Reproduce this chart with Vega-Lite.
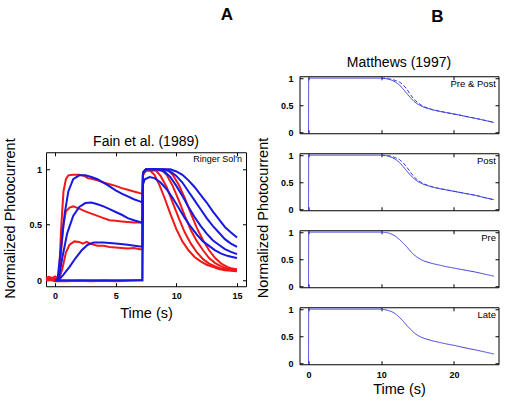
{
"$schema":"https://vega.github.io/schema/vega-lite/v6.json",
"background":"white",
"padding":{"left":2,"top":6,"right":2,"bottom":2},
"config":{
 "font":"Liberation Sans",
 "view":{"stroke":"black","strokeWidth":1},
 "axis":{"minExtent":0,"tickSize":-3.5,"tickColor":"black","tickWidth":1,"domain":false,"grid":false,"labelFont":"Liberation Sans","labelFontWeight":"bold","labelFontSize":9,"labelColor":"black","titleFont":"Liberation Sans","titleFontWeight":"normal","titleFontSize":14.5,"titleColor":"black"},
 "axisY":{"minExtent":0},
 "title":{"font":"Liberation Sans","fontSize":14,"fontWeight":"normal","color":"black","baseline":"alphabetic"}
},
"datasets":{
 "fain":[
{"s":"r1","m":"data","t":-0.74,"v":0.02},{"s":"r1","m":"data","t":-0.5,"v":0.03},{"s":"r1","m":"data","t":-0.25,"v":0.02},{"s":"r1","m":"data","t":0,"v":0.035},{"s":"r1","m":"data","t":0.2,"v":0.02},{"s":"r1","m":"data","t":0.35,"v":0.06},{"s":"r1","m":"data","t":0.5,"v":0.45},{"s":"r1","m":"data","t":0.7,"v":0.8},{"s":"r1","m":"data","t":0.9,"v":0.91},{"s":"r1","m":"data","t":1.1,"v":0.945},{"s":"r1","m":"data","t":1.5,"v":0.95},{"s":"r1","m":"data","t":2,"v":0.95},{"s":"r1","m":"data","t":2.4,"v":0.94},{"s":"r1","m":"data","t":2.7,"v":0.92},{"s":"r1","m":"data","t":3,"v":0.915},{"s":"r1","m":"data","t":3.5,"v":0.9},{"s":"r1","m":"data","t":4,"v":0.88},{"s":"r1","m":"data","t":4.5,"v":0.865},{"s":"r1","m":"data","t":5,"v":0.85},{"s":"r1","m":"data","t":5.5,"v":0.83},{"s":"r1","m":"data","t":6,"v":0.815},{"s":"r1","m":"data","t":6.5,"v":0.8},{"s":"r1","m":"data","t":7,"v":0.785},{"s":"r1","m":"data","t":7.2,"v":0.78},{"s":"r1","m":"data","t":7.25,"v":0.96},{"s":"r1","m":"data","t":7.4,"v":0.99},{"s":"r1","m":"data","t":7.8,"v":0.99},{"s":"r1","m":"data","t":8.2,"v":0.95},{"s":"r1","m":"data","t":8.6,"v":0.86},{"s":"r1","m":"data","t":9,"v":0.75},{"s":"r1","m":"data","t":9.5,"v":0.6},{"s":"r1","m":"data","t":10,"v":0.46},{"s":"r1","m":"data","t":10.5,"v":0.35},{"s":"r1","m":"data","t":11,"v":0.27},{"s":"r1","m":"data","t":11.5,"v":0.21},{"s":"r1","m":"data","t":12,"v":0.17},{"s":"r1","m":"data","t":12.5,"v":0.14},{"s":"r1","m":"data","t":13,"v":0.12},{"s":"r1","m":"data","t":13.5,"v":0.1},{"s":"r1","m":"data","t":14,"v":0.09},{"s":"r1","m":"data","t":14.5,"v":0.085},{"s":"r1","m":"data","t":15,"v":0.08},
{"s":"r2","m":"data","t":-0.74,"v":0.01},{"s":"r2","m":"data","t":-0.4,"v":0.02},{"s":"r2","m":"data","t":0,"v":0.015},{"s":"r2","m":"data","t":0.3,"v":0.02},{"s":"r2","m":"data","t":0.5,"v":0.25},{"s":"r2","m":"data","t":0.7,"v":0.5},{"s":"r2","m":"data","t":0.9,"v":0.62},{"s":"r2","m":"data","t":1.2,"v":0.655},{"s":"r2","m":"data","t":1.5,"v":0.665},{"s":"r2","m":"data","t":2,"v":0.645},{"s":"r2","m":"data","t":2.5,"v":0.62},{"s":"r2","m":"data","t":3,"v":0.6},{"s":"r2","m":"data","t":3.5,"v":0.58},{"s":"r2","m":"data","t":4,"v":0.56},{"s":"r2","m":"data","t":4.5,"v":0.54},{"s":"r2","m":"data","t":5,"v":0.535},{"s":"r2","m":"data","t":5.5,"v":0.53},{"s":"r2","m":"data","t":6,"v":0.525},{"s":"r2","m":"data","t":6.5,"v":0.52},{"s":"r2","m":"data","t":7,"v":0.52},{"s":"r2","m":"data","t":7.2,"v":0.515},{"s":"r2","m":"data","t":7.25,"v":0.95},{"s":"r2","m":"data","t":7.5,"v":0.99},{"s":"r2","m":"data","t":8.3,"v":0.99},{"s":"r2","m":"data","t":8.7,"v":0.94},{"s":"r2","m":"data","t":9.2,"v":0.84},{"s":"r2","m":"data","t":9.7,"v":0.7},{"s":"r2","m":"data","t":10.2,"v":0.56},{"s":"r2","m":"data","t":10.7,"v":0.43},{"s":"r2","m":"data","t":11.2,"v":0.33},{"s":"r2","m":"data","t":11.7,"v":0.25},{"s":"r2","m":"data","t":12.2,"v":0.19},{"s":"r2","m":"data","t":12.7,"v":0.15},{"s":"r2","m":"data","t":13.2,"v":0.125},{"s":"r2","m":"data","t":13.7,"v":0.105},{"s":"r2","m":"data","t":14.2,"v":0.095},{"s":"r2","m":"data","t":15,"v":0.085},
{"s":"r3","m":"data","t":-0.74,"v":0},{"s":"r3","m":"data","t":-0.3,"v":0.005},{"s":"r3","m":"data","t":0.3,"v":0},{"s":"r3","m":"data","t":0.6,"v":0.1},{"s":"r3","m":"data","t":0.9,"v":0.25},{"s":"r3","m":"data","t":1.2,"v":0.32},{"s":"r3","m":"data","t":1.6,"v":0.35},{"s":"r3","m":"data","t":2,"v":0.345},{"s":"r3","m":"data","t":2.3,"v":0.33},{"s":"r3","m":"data","t":2.6,"v":0.345},{"s":"r3","m":"data","t":3,"v":0.325},{"s":"r3","m":"data","t":3.5,"v":0.31},{"s":"r3","m":"data","t":4,"v":0.31},{"s":"r3","m":"data","t":4.5,"v":0.3},{"s":"r3","m":"data","t":5,"v":0.295},{"s":"r3","m":"data","t":5.5,"v":0.29},{"s":"r3","m":"data","t":6,"v":0.285},{"s":"r3","m":"data","t":6.5,"v":0.29},{"s":"r3","m":"data","t":7,"v":0.28},{"s":"r3","m":"data","t":7.2,"v":0.28},{"s":"r3","m":"data","t":7.25,"v":0.95},{"s":"r3","m":"data","t":7.5,"v":0.99},{"s":"r3","m":"data","t":8.8,"v":0.99},{"s":"r3","m":"data","t":9.2,"v":0.95},{"s":"r3","m":"data","t":9.7,"v":0.85},{"s":"r3","m":"data","t":10.2,"v":0.72},{"s":"r3","m":"data","t":10.7,"v":0.58},{"s":"r3","m":"data","t":11.2,"v":0.45},{"s":"r3","m":"data","t":11.7,"v":0.35},{"s":"r3","m":"data","t":12.2,"v":0.27},{"s":"r3","m":"data","t":12.7,"v":0.2},{"s":"r3","m":"data","t":13.2,"v":0.155},{"s":"r3","m":"data","t":13.7,"v":0.125},{"s":"r3","m":"data","t":14.2,"v":0.105},{"s":"r3","m":"data","t":15,"v":0.09},
{"s":"r4","m":"data","t":-0.74,"v":0.01},{"s":"r4","m":"data","t":-0.3,"v":0},{"s":"r4","m":"data","t":0,"v":-0.01},{"s":"r4","m":"data","t":1,"v":-0.01},{"s":"r4","m":"data","t":2,"v":-0.005},{"s":"r4","m":"data","t":3,"v":-0.01},{"s":"r4","m":"data","t":4,"v":-0.005},{"s":"r4","m":"data","t":5,"v":-0.01},{"s":"r4","m":"data","t":6,"v":-0.005},{"s":"r4","m":"data","t":7,"v":0},{"s":"r4","m":"data","t":7.2,"v":0},{"s":"r4","m":"data","t":7.25,"v":0.95},{"s":"r4","m":"data","t":7.5,"v":0.99},{"s":"r4","m":"data","t":9.3,"v":0.99},{"s":"r4","m":"data","t":9.7,"v":0.95},{"s":"r4","m":"data","t":10.2,"v":0.86},{"s":"r4","m":"data","t":10.7,"v":0.74},{"s":"r4","m":"data","t":11.2,"v":0.6},{"s":"r4","m":"data","t":11.7,"v":0.47},{"s":"r4","m":"data","t":12.2,"v":0.36},{"s":"r4","m":"data","t":12.7,"v":0.27},{"s":"r4","m":"data","t":13.2,"v":0.2},{"s":"r4","m":"data","t":13.7,"v":0.15},{"s":"r4","m":"data","t":14.2,"v":0.12},{"s":"r4","m":"data","t":14.6,"v":0.105},{"s":"r4","m":"data","t":15,"v":0.1},
{"s":"b1","m":"model","t":0,"v":0},{"s":"b1","m":"model","t":0.2,"v":0},{"s":"b1","m":"model","t":0.5,"v":0.3},{"s":"b1","m":"model","t":0.8,"v":0.6},{"s":"b1","m":"model","t":1.1,"v":0.8},{"s":"b1","m":"model","t":1.5,"v":0.91},{"s":"b1","m":"model","t":2,"v":0.945},{"s":"b1","m":"model","t":2.5,"v":0.945},{"s":"b1","m":"model","t":3,"v":0.93},{"s":"b1","m":"model","t":3.5,"v":0.91},{"s":"b1","m":"model","t":4,"v":0.88},{"s":"b1","m":"model","t":4.5,"v":0.845},{"s":"b1","m":"model","t":5,"v":0.81},{"s":"b1","m":"model","t":5.5,"v":0.78},{"s":"b1","m":"model","t":6,"v":0.755},{"s":"b1","m":"model","t":6.5,"v":0.73},{"s":"b1","m":"model","t":7,"v":0.71},{"s":"b1","m":"model","t":7.2,"v":0.7},{"s":"b1","m":"model","t":7.25,"v":0.86},{"s":"b1","m":"model","t":7.4,"v":0.91},{"s":"b1","m":"model","t":7.8,"v":0.93},{"s":"b1","m":"model","t":8.2,"v":0.92},{"s":"b1","m":"model","t":8.7,"v":0.88},{"s":"b1","m":"model","t":9.2,"v":0.82},{"s":"b1","m":"model","t":9.7,"v":0.74},{"s":"b1","m":"model","t":10.2,"v":0.65},{"s":"b1","m":"model","t":10.7,"v":0.56},{"s":"b1","m":"model","t":11.2,"v":0.48},{"s":"b1","m":"model","t":11.7,"v":0.41},{"s":"b1","m":"model","t":12.2,"v":0.35},{"s":"b1","m":"model","t":12.7,"v":0.31},{"s":"b1","m":"model","t":13.2,"v":0.27},{"s":"b1","m":"model","t":13.7,"v":0.24},{"s":"b1","m":"model","t":14.2,"v":0.22},{"s":"b1","m":"model","t":14.6,"v":0.21},{"s":"b1","m":"model","t":15,"v":0.2},
{"s":"b2","m":"model","t":0,"v":0},{"s":"b2","m":"model","t":0.3,"v":0},{"s":"b2","m":"model","t":0.6,"v":0.2},{"s":"b2","m":"model","t":1,"v":0.42},{"s":"b2","m":"model","t":1.5,"v":0.58},{"s":"b2","m":"model","t":2,"v":0.66},{"s":"b2","m":"model","t":2.5,"v":0.695},{"s":"b2","m":"model","t":3,"v":0.7},{"s":"b2","m":"model","t":3.5,"v":0.685},{"s":"b2","m":"model","t":4,"v":0.665},{"s":"b2","m":"model","t":4.5,"v":0.64},{"s":"b2","m":"model","t":5,"v":0.615},{"s":"b2","m":"model","t":5.5,"v":0.59},{"s":"b2","m":"model","t":6,"v":0.56},{"s":"b2","m":"model","t":6.5,"v":0.54},{"s":"b2","m":"model","t":7,"v":0.525},{"s":"b2","m":"model","t":7.2,"v":0.52},{"s":"b2","m":"model","t":7.25,"v":0.97},{"s":"b2","m":"model","t":7.5,"v":1},{"s":"b2","m":"model","t":8.5,"v":1},{"s":"b2","m":"model","t":9,"v":0.98},{"s":"b2","m":"model","t":9.5,"v":0.93},{"s":"b2","m":"model","t":10,"v":0.85},{"s":"b2","m":"model","t":10.5,"v":0.76},{"s":"b2","m":"model","t":11,"v":0.66},{"s":"b2","m":"model","t":11.5,"v":0.57},{"s":"b2","m":"model","t":12,"v":0.49},{"s":"b2","m":"model","t":12.5,"v":0.42},{"s":"b2","m":"model","t":13,"v":0.36},{"s":"b2","m":"model","t":13.5,"v":0.32},{"s":"b2","m":"model","t":14,"v":0.28},{"s":"b2","m":"model","t":14.5,"v":0.255},{"s":"b2","m":"model","t":15,"v":0.235},
{"s":"b3","m":"model","t":0,"v":0},{"s":"b3","m":"model","t":0.3,"v":0},{"s":"b3","m":"model","t":0.7,"v":0.05},{"s":"b3","m":"model","t":1.2,"v":0.12},{"s":"b3","m":"model","t":1.7,"v":0.2},{"s":"b3","m":"model","t":2.2,"v":0.27},{"s":"b3","m":"model","t":2.7,"v":0.32},{"s":"b3","m":"model","t":3.2,"v":0.34},{"s":"b3","m":"model","t":4,"v":0.34},{"s":"b3","m":"model","t":5,"v":0.33},{"s":"b3","m":"model","t":6,"v":0.32},{"s":"b3","m":"model","t":7,"v":0.305},{"s":"b3","m":"model","t":7.2,"v":0.305},{"s":"b3","m":"model","t":7.25,"v":0.97},{"s":"b3","m":"model","t":7.5,"v":1},{"s":"b3","m":"model","t":9,"v":1},{"s":"b3","m":"model","t":9.5,"v":0.98},{"s":"b3","m":"model","t":10,"v":0.94},{"s":"b3","m":"model","t":10.5,"v":0.88},{"s":"b3","m":"model","t":11,"v":0.8},{"s":"b3","m":"model","t":11.5,"v":0.72},{"s":"b3","m":"model","t":12,"v":0.64},{"s":"b3","m":"model","t":12.5,"v":0.56},{"s":"b3","m":"model","t":13,"v":0.49},{"s":"b3","m":"model","t":13.5,"v":0.43},{"s":"b3","m":"model","t":14,"v":0.37},{"s":"b3","m":"model","t":14.5,"v":0.33},{"s":"b3","m":"model","t":15,"v":0.3},
{"s":"b4","m":"model","t":0,"v":0},{"s":"b4","m":"model","t":7.2,"v":0},{"s":"b4","m":"model","t":7.25,"v":0.97},{"s":"b4","m":"model","t":7.5,"v":1},{"s":"b4","m":"model","t":9.5,"v":1},{"s":"b4","m":"model","t":10,"v":0.98},{"s":"b4","m":"model","t":10.5,"v":0.95},{"s":"b4","m":"model","t":11,"v":0.9},{"s":"b4","m":"model","t":11.5,"v":0.84},{"s":"b4","m":"model","t":12,"v":0.77},{"s":"b4","m":"model","t":12.5,"v":0.7},{"s":"b4","m":"model","t":13,"v":0.62},{"s":"b4","m":"model","t":13.5,"v":0.55},{"s":"b4","m":"model","t":14,"v":0.48},{"s":"b4","m":"model","t":14.5,"v":0.43},{"s":"b4","m":"model","t":15,"v":0.385}
 ],
 "pp":[
{"d":"solid","t":0,"v":-0.02},{"d":"solid","t":0.02,"v":1},{"d":"solid","t":10,"v":1},{"d":"solid","t":10.5,"v":0.995},{"d":"solid","t":11,"v":0.98},{"d":"solid","t":11.5,"v":0.96},{"d":"solid","t":12,"v":0.925},{"d":"solid","t":12.5,"v":0.875},{"d":"solid","t":13,"v":0.8},{"d":"solid","t":13.5,"v":0.72},{"d":"solid","t":14,"v":0.64},{"d":"solid","t":14.5,"v":0.57},{"d":"solid","t":15,"v":0.52},{"d":"solid","t":15.5,"v":0.485},{"d":"solid","t":16,"v":0.455},{"d":"solid","t":17,"v":0.415},{"d":"solid","t":18,"v":0.385},{"d":"solid","t":19,"v":0.36},{"d":"solid","t":20,"v":0.335},{"d":"solid","t":21,"v":0.31},{"d":"solid","t":22,"v":0.28},{"d":"solid","t":23,"v":0.255},{"d":"solid","t":24,"v":0.225},{"d":"solid","t":25,"v":0.195},{"d":"solid","t":25.5,"v":0.18},
{"d":"dashed","t":10,"v":1},{"d":"dashed","t":11,"v":0.99},{"d":"dashed","t":11.5,"v":0.975},{"d":"dashed","t":12,"v":0.955},{"d":"dashed","t":12.5,"v":0.93},{"d":"dashed","t":13,"v":0.88},{"d":"dashed","t":13.5,"v":0.8},{"d":"dashed","t":14,"v":0.7},{"d":"dashed","t":14.5,"v":0.61},{"d":"dashed","t":15,"v":0.55},{"d":"dashed","t":15.5,"v":0.5},{"d":"dashed","t":16,"v":0.465},{"d":"dashed","t":17,"v":0.42},{"d":"dashed","t":18,"v":0.39},{"d":"dashed","t":19,"v":0.362},{"d":"dashed","t":20,"v":0.337},{"d":"dashed","t":21,"v":0.31},{"d":"dashed","t":22,"v":0.282},{"d":"dashed","t":23,"v":0.256},{"d":"dashed","t":24,"v":0.226},{"d":"dashed","t":25,"v":0.196},{"d":"dashed","t":25.5,"v":0.18}
 ],
 "post":[
{"d":"solid","t":0,"v":-0.02},{"d":"solid","t":0.02,"v":1},{"d":"solid","t":10,"v":1},{"d":"solid","t":10.5,"v":0.995},{"d":"solid","t":11,"v":0.98},{"d":"solid","t":11.5,"v":0.955},{"d":"solid","t":12,"v":0.92},{"d":"solid","t":12.5,"v":0.865},{"d":"solid","t":13,"v":0.79},{"d":"solid","t":13.5,"v":0.71},{"d":"solid","t":14,"v":0.63},{"d":"solid","t":14.5,"v":0.565},{"d":"solid","t":15,"v":0.515},{"d":"solid","t":15.5,"v":0.48},{"d":"solid","t":16,"v":0.45},{"d":"solid","t":17,"v":0.41},{"d":"solid","t":18,"v":0.38},{"d":"solid","t":19,"v":0.355},{"d":"solid","t":20,"v":0.33},{"d":"solid","t":21,"v":0.305},{"d":"solid","t":22,"v":0.28},{"d":"solid","t":23,"v":0.255},{"d":"solid","t":24,"v":0.22},{"d":"solid","t":25,"v":0.19},{"d":"solid","t":25.5,"v":0.175},
{"d":"dashed","t":10,"v":1},{"d":"dashed","t":11,"v":0.99},{"d":"dashed","t":11.5,"v":0.975},{"d":"dashed","t":12,"v":0.95},{"d":"dashed","t":12.5,"v":0.92},{"d":"dashed","t":13,"v":0.86},{"d":"dashed","t":13.5,"v":0.78},{"d":"dashed","t":14,"v":0.69},{"d":"dashed","t":14.5,"v":0.6},{"d":"dashed","t":15,"v":0.54},{"d":"dashed","t":15.5,"v":0.495},{"d":"dashed","t":16,"v":0.46},{"d":"dashed","t":17,"v":0.415},{"d":"dashed","t":18,"v":0.383},{"d":"dashed","t":19,"v":0.357},{"d":"dashed","t":20,"v":0.332},{"d":"dashed","t":21,"v":0.306},{"d":"dashed","t":22,"v":0.281},{"d":"dashed","t":23,"v":0.256},{"d":"dashed","t":24,"v":0.221},{"d":"dashed","t":25,"v":0.191},{"d":"dashed","t":25.5,"v":0.175}
 ],
 "pre":[
{"d":"solid","t":0,"v":-0.02},{"d":"solid","t":0.02,"v":1},{"d":"solid","t":10,"v":1},{"d":"solid","t":10.5,"v":0.995},{"d":"solid","t":11,"v":0.985},{"d":"solid","t":11.5,"v":0.96},{"d":"solid","t":12,"v":0.92},{"d":"solid","t":12.5,"v":0.865},{"d":"solid","t":13,"v":0.8},{"d":"solid","t":13.5,"v":0.73},{"d":"solid","t":14,"v":0.65},{"d":"solid","t":14.5,"v":0.58},{"d":"solid","t":15,"v":0.53},{"d":"solid","t":15.5,"v":0.49},{"d":"solid","t":16,"v":0.46},{"d":"solid","t":17,"v":0.42},{"d":"solid","t":18,"v":0.39},{"d":"solid","t":19,"v":0.36},{"d":"solid","t":20,"v":0.335},{"d":"solid","t":21,"v":0.31},{"d":"solid","t":22,"v":0.285},{"d":"solid","t":23,"v":0.26},{"d":"solid","t":24,"v":0.23},{"d":"solid","t":25,"v":0.2},{"d":"solid","t":25.5,"v":0.185}
 ],
 "late":[
{"d":"solid","t":0,"v":-0.02},{"d":"solid","t":0.02,"v":1},{"d":"solid","t":10,"v":1},{"d":"solid","t":10.5,"v":0.99},{"d":"solid","t":11,"v":0.975},{"d":"solid","t":11.5,"v":0.95},{"d":"solid","t":12,"v":0.91},{"d":"solid","t":12.5,"v":0.85},{"d":"solid","t":13,"v":0.78},{"d":"solid","t":13.5,"v":0.7},{"d":"solid","t":14,"v":0.63},{"d":"solid","t":14.5,"v":0.565},{"d":"solid","t":15,"v":0.515},{"d":"solid","t":15.5,"v":0.48},{"d":"solid","t":16,"v":0.455},{"d":"solid","t":17,"v":0.415},{"d":"solid","t":18,"v":0.385},{"d":"solid","t":19,"v":0.355},{"d":"solid","t":20,"v":0.33},{"d":"solid","t":21,"v":0.3},{"d":"solid","t":22,"v":0.27},{"d":"solid","t":23,"v":0.245},{"d":"solid","t":24,"v":0.215},{"d":"solid","t":25,"v":0.185},{"d":"solid","t":25.5,"v":0.17}
 ],
 "labels":[{"panel":"fain","t":15.41,"v":1.126,"label":"Ringer Sol'n"},{"panel":"pp","t":25.78,"v":0.98,"label":"Pre & Post"},{"panel":"post","t":25.78,"v":0.98,"label":"Post"},{"panel":"pre","t":25.78,"v":0.98,"label":"Pre"},{"panel":"late","t":25.78,"v":0.98,"label":"Late"}]
},
"hconcat":[
 {
  "title":{"text":"A","fontSize":17,"fontWeight":"bold","anchor":"end","frame":"bounds","dx":-14,"offset":110},
  "vconcat":[
   {
    "title":{"text":"Normalized Photocurrent","orient":"left","fontSize":14.5,"anchor":"middle","frame":"bounds","offset":10,"dx":9},
    "vconcat":[
     {
      "title":{"text":"Fain et al. (1989)","offset":3,"frame":"group"},
      "width":200,"height":134,
      "data":{"name":"fain"},
      "layer":[
       {"mark":{"type":"line","strokeWidth":2},
        "encoding":{
         "x":{"field":"t","type":"quantitative","scale":{"domain":[-0.74,15.74],"nice":false,"zero":false},"axis":{"values":[0,5,10,15],"format":"d","labelPadding":9,"title":"Time (s)","titlePadding":6}},
         "y":{"field":"v","type":"quantitative","scale":{"domain":[-0.054,1.153],"nice":false,"zero":false},"axis":{"values":[0,0.5,1],"format":"~g","labelPadding":8,"title":null}},
         "color":{"field":"m","type":"nominal","scale":{"domain":["data","model"],"range":["#f01818","#1818e0"]},"legend":null},
         "detail":{"field":"s","type":"nominal"}
        }},
       {"mark":{"type":"point","opacity":0},
        "encoding":{
         "x":{"field":"t","type":"quantitative","scale":{"domain":[-0.74,15.74],"nice":false,"zero":false},"axis":{"orient":"top","values":[0,5,10,15],"labels":false,"title":null}},
         "y":{"field":"v","type":"quantitative","scale":{"domain":[-0.054,1.153],"nice":false,"zero":false},"axis":{"orient":"right","values":[0,0.5,1],"labels":false,"title":null}}
        }},
       {"data":{"name":"labels"},"transform":[{"filter":"datum.panel === 'fain'"}],
        "mark":{"type":"text","align":"right","baseline":"top","fontSize":9,"color":"black"},
        "encoding":{
         "x":{"field":"t","type":"quantitative","scale":{"domain":[-0.74,15.74],"nice":false,"zero":false},"axis":null},
         "y":{"field":"v","type":"quantitative","scale":{"domain":[-0.054,1.153],"nice":false,"zero":false},"axis":null},
         "text":{"field":"label"}
        }}
      ],
      "resolve":{"axis":{"x":"independent","y":"independent"}}
     }
    ]
   }
  ]
 },
 {
  "title":{"text":"B","fontSize":17,"fontWeight":"bold","anchor":"end","frame":"bounds","dx":-56,"offset":29},
  "vconcat":[
   {
    "title":{"text":"Normalized Photocurrent","orient":"left","fontSize":14.5,"anchor":"middle","frame":"bounds","offset":8,"dx":8},
    "spacing":12,
    "vconcat":[
     {
      "title":{"text":"Matthews (1997)","offset":4.5,"frame":"group"},
      "width":199,"height":57,
      "data":{"name":"pp"},
      "layer":[
       {"mark":{"type":"line","strokeWidth":1,"color":"#3c3cd8"},
        "encoding":{
         "x":{"field":"t","type":"quantitative","scale":{"domain":[-1.24,26.13],"nice":false,"zero":false},"axis":{"values":[0,10,20],"labels":false,"title":null}},
         "y":{"field":"v","type":"quantitative","scale":{"domain":[-0.02,1.035],"nice":false,"zero":false},"axis":{"values":[0,0.5,1],"format":"~g","labelPadding":10,"title":null}},
         "strokeDash":{"field":"d","type":"nominal","scale":{"domain":["solid","dashed"],"range":[[1,0],[4,2]]},"legend":null}
        }},
       {"mark":{"type":"point","opacity":0},
        "encoding":{
         "x":{"field":"t","type":"quantitative","scale":{"domain":[-1.24,26.13],"nice":false,"zero":false},"axis":{"orient":"top","values":[0,10,20],"labels":false,"title":null}},
         "y":{"field":"v","type":"quantitative","scale":{"domain":[-0.02,1.035],"nice":false,"zero":false},"axis":{"orient":"right","values":[0,0.5,1],"labels":false,"title":null}}
        }},
       {"data":{"name":"labels"},"transform":[{"filter":"datum.panel === 'pp'"}],
        "mark":{"type":"text","align":"right","baseline":"top","fontSize":9.5,"color":"black"},
        "encoding":{
         "x":{"field":"t","type":"quantitative","scale":{"domain":[-1.24,26.13],"nice":false,"zero":false},"axis":null},
         "y":{"field":"v","type":"quantitative","scale":{"domain":[-0.02,1.035],"nice":false,"zero":false},"axis":null},
         "text":{"field":"label"}
        }}
      ],
      "resolve":{"axis":{"x":"independent","y":"independent"}}
     },
     {
      "width":199,"height":57,
      "data":{"name":"post"},
      "layer":[
       {"mark":{"type":"line","strokeWidth":1,"color":"#3c3cd8"},
        "encoding":{
         "x":{"field":"t","type":"quantitative","scale":{"domain":[-1.24,26.13],"nice":false,"zero":false},"axis":{"values":[0,10,20],"labels":false,"title":null}},
         "y":{"field":"v","type":"quantitative","scale":{"domain":[-0.02,1.035],"nice":false,"zero":false},"axis":{"values":[0,0.5,1],"format":"~g","labelPadding":10,"title":null}},
         "strokeDash":{"field":"d","type":"nominal","scale":{"domain":["solid","dashed"],"range":[[1,0],[4,2]]},"legend":null}
        }},
       {"mark":{"type":"point","opacity":0},
        "encoding":{
         "x":{"field":"t","type":"quantitative","scale":{"domain":[-1.24,26.13],"nice":false,"zero":false},"axis":{"orient":"top","values":[0,10,20],"labels":false,"title":null}},
         "y":{"field":"v","type":"quantitative","scale":{"domain":[-0.02,1.035],"nice":false,"zero":false},"axis":{"orient":"right","values":[0,0.5,1],"labels":false,"title":null}}
        }},
       {"data":{"name":"labels"},"transform":[{"filter":"datum.panel === 'post'"}],
        "mark":{"type":"text","align":"right","baseline":"top","fontSize":9.5,"color":"black"},
        "encoding":{
         "x":{"field":"t","type":"quantitative","scale":{"domain":[-1.24,26.13],"nice":false,"zero":false},"axis":null},
         "y":{"field":"v","type":"quantitative","scale":{"domain":[-0.02,1.035],"nice":false,"zero":false},"axis":null},
         "text":{"field":"label"}
        }}
      ],
      "resolve":{"axis":{"x":"independent","y":"independent"}}
     },
     {
      "width":199,"height":57,
      "data":{"name":"pre"},
      "layer":[
       {"mark":{"type":"line","strokeWidth":1,"color":"#3c3cd8"},
        "encoding":{
         "x":{"field":"t","type":"quantitative","scale":{"domain":[-1.24,26.13],"nice":false,"zero":false},"axis":{"values":[0,10,20],"labels":false,"title":null}},
         "y":{"field":"v","type":"quantitative","scale":{"domain":[-0.02,1.035],"nice":false,"zero":false},"axis":{"values":[0,0.5,1],"format":"~g","labelPadding":10,"title":null}},
         "strokeDash":{"field":"d","type":"nominal","scale":{"domain":["solid","dashed"],"range":[[1,0],[4,2]]},"legend":null}
        }},
       {"mark":{"type":"point","opacity":0},
        "encoding":{
         "x":{"field":"t","type":"quantitative","scale":{"domain":[-1.24,26.13],"nice":false,"zero":false},"axis":{"orient":"top","values":[0,10,20],"labels":false,"title":null}},
         "y":{"field":"v","type":"quantitative","scale":{"domain":[-0.02,1.035],"nice":false,"zero":false},"axis":{"orient":"right","values":[0,0.5,1],"labels":false,"title":null}}
        }},
       {"data":{"name":"labels"},"transform":[{"filter":"datum.panel === 'pre'"}],
        "mark":{"type":"text","align":"right","baseline":"top","fontSize":9.5,"color":"black"},
        "encoding":{
         "x":{"field":"t","type":"quantitative","scale":{"domain":[-1.24,26.13],"nice":false,"zero":false},"axis":null},
         "y":{"field":"v","type":"quantitative","scale":{"domain":[-0.02,1.035],"nice":false,"zero":false},"axis":null},
         "text":{"field":"label"}
        }}
      ],
      "resolve":{"axis":{"x":"independent","y":"independent"}}
     },
     {
      "width":199,"height":57,
      "data":{"name":"late"},
      "layer":[
       {"mark":{"type":"line","strokeWidth":1,"color":"#3c3cd8"},
        "encoding":{
         "x":{"field":"t","type":"quantitative","scale":{"domain":[-1.24,26.13],"nice":false,"zero":false},"axis":{"values":[0,10,20],"format":"d","labelPadding":10,"title":"Time (s)","titlePadding":3}},
         "y":{"field":"v","type":"quantitative","scale":{"domain":[-0.02,1.035],"nice":false,"zero":false},"axis":{"values":[0,0.5,1],"format":"~g","labelPadding":10,"title":null}},
         "strokeDash":{"field":"d","type":"nominal","scale":{"domain":["solid","dashed"],"range":[[1,0],[4,2]]},"legend":null}
        }},
       {"mark":{"type":"point","opacity":0},
        "encoding":{
         "x":{"field":"t","type":"quantitative","scale":{"domain":[-1.24,26.13],"nice":false,"zero":false},"axis":{"orient":"top","values":[0,10,20],"labels":false,"title":null}},
         "y":{"field":"v","type":"quantitative","scale":{"domain":[-0.02,1.035],"nice":false,"zero":false},"axis":{"orient":"right","values":[0,0.5,1],"labels":false,"title":null}}
        }},
       {"data":{"name":"labels"},"transform":[{"filter":"datum.panel === 'late'"}],
        "mark":{"type":"text","align":"right","baseline":"top","fontSize":9.5,"color":"black"},
        "encoding":{
         "x":{"field":"t","type":"quantitative","scale":{"domain":[-1.24,26.13],"nice":false,"zero":false},"axis":null},
         "y":{"field":"v","type":"quantitative","scale":{"domain":[-0.02,1.035],"nice":false,"zero":false},"axis":null},
         "text":{"field":"label"}
        }}
      ],
      "resolve":{"axis":{"x":"independent","y":"independent"}}
     }
    ]
   }
  ]
 }
],
"spacing":8.5,
"center":true
}
